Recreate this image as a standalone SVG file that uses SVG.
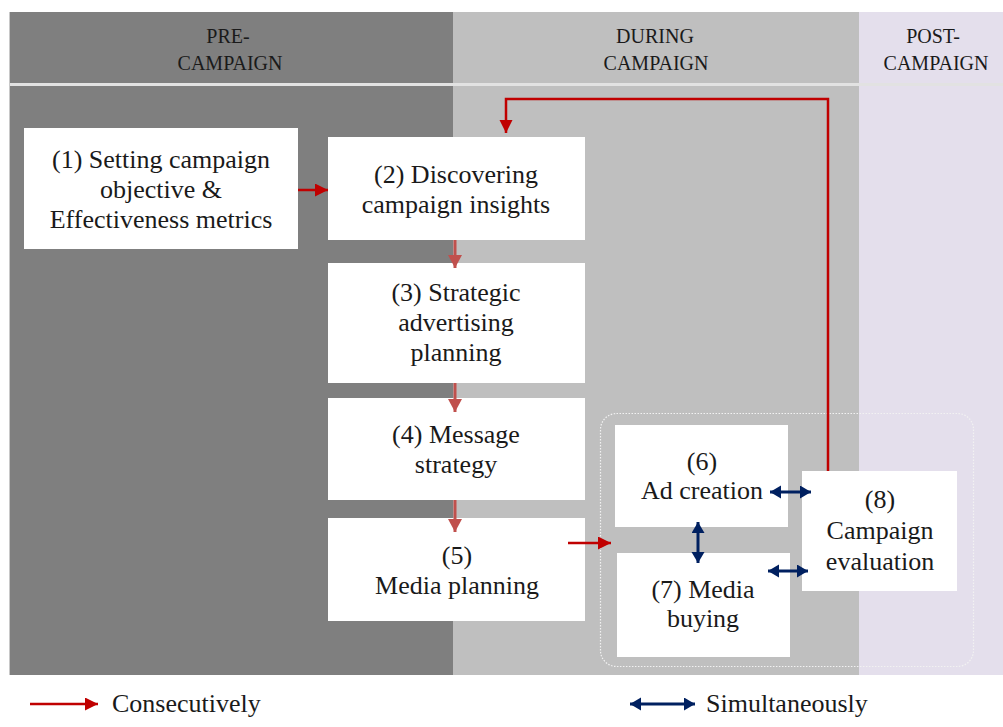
<svg xmlns="http://www.w3.org/2000/svg" width="1003" height="727" viewBox="0 0 1003 727">
<style>
.box{fill:#ffffff;}
.t{font-family:"Liberation Serif","Times New Roman",serif;font-size:26px;fill:#1a1a1a;text-anchor:middle;}
.h{font-family:"Liberation Serif","Times New Roman",serif;font-size:20px;fill:#1a1a1a;text-anchor:middle;}
.lg{font-family:"Liberation Serif","Times New Roman",serif;font-size:26px;fill:#1a1a1a;}
.red{fill:none;stroke:#c00000;stroke-width:2.5;marker-end:url(#ar);}
.pale{fill:none;stroke:#c0504d;stroke-width:3;marker-end:url(#ap);}
.blue{fill:none;stroke:#002060;stroke-width:3;marker-end:url(#ab);marker-start:url(#ab);}
</style>
<defs>
<marker id="ar" markerUnits="userSpaceOnUse" markerWidth="14" markerHeight="14" refX="13" refY="6.5" orient="auto"><path d="M0,0 L13,6.5 L0,13 z" fill="#c00000"/></marker>
<marker id="ap" markerUnits="userSpaceOnUse" markerWidth="16" markerHeight="16" refX="13" refY="7" orient="auto"><path d="M0,0 L13,7 L0,14 z" fill="#c0504d"/></marker>
<marker id="ab" markerUnits="userSpaceOnUse" markerWidth="14" markerHeight="14" refX="11" refY="6.5" orient="auto-start-reverse"><path d="M0,0 L11,6.5 L0,13 z" fill="#002060"/></marker>
</defs>
<rect x="0" y="0" width="1003" height="727" fill="#ffffff"/>
<g id="background">
<rect x="9" y="12" width="444" height="663" fill="#7f7f7f"/>
<rect x="453" y="12" width="406" height="663" fill="#bfbfbf"/>
<rect x="859" y="12" width="144" height="663" fill="#e4dfec"/>
<rect x="9" y="83" width="994" height="3" fill="#e2e2e2"/>
<line x1="9.5" y1="12" x2="9.5" y2="675" stroke="#c8c8c8" stroke-width="1"/>
<text class="h" x="228" y="43">PRE-</text>
<text class="h" x="230" y="70">CAMPAIGN</text>
<text class="h" x="655" y="43">DURING</text>
<text class="h" x="656" y="70">CAMPAIGN</text>
<text class="h" x="933" y="43">POST-</text>
<text class="h" x="936" y="70">CAMPAIGN</text>
<rect x="600.5" y="413.5" width="373" height="253" rx="16" fill="none" stroke="#f2f2f2" stroke-width="1.2" stroke-dasharray="1.5,1.5"/>
</g>
<g id="node1"><rect class="box" x="24" y="128" width="274" height="121"/>
<text class="t" x="161" y="168">(1) Setting campaign</text>
<text class="t" x="161" y="198">objective &amp;</text>
<text class="t" x="161" y="228">Effectiveness metrics</text></g>
<g id="node2"><rect class="box" x="328" y="137" width="257" height="103"/>
<text class="t" x="456" y="183">(2) Discovering</text>
<text class="t" x="456" y="213">campaign insights</text></g>
<g id="node3"><rect class="box" x="328" y="263" width="257" height="120"/>
<text class="t" x="456" y="301">(3) Strategic</text>
<text class="t" x="456" y="331">advertising</text>
<text class="t" x="456" y="361">planning</text></g>
<g id="node4"><rect class="box" x="328" y="398" width="257" height="102"/>
<text class="t" x="456" y="443">(4) Message</text>
<text class="t" x="456" y="473">strategy</text></g>
<g id="node5"><rect class="box" x="328" y="518" width="257" height="103"/>
<text class="t" x="457" y="564">(5)</text>
<text class="t" x="457" y="594">Media planning</text></g>
<g id="node6"><rect class="box" x="615" y="425" width="173" height="102"/>
<text class="t" x="702" y="470">(6)</text>
<text class="t" x="702" y="499">Ad creation</text></g>
<g id="node7"><rect class="box" x="617" y="553" width="173" height="104"/>
<text class="t" x="703" y="598">(7) Media</text>
<text class="t" x="703" y="627">buying</text></g>
<g id="node8"><rect class="box" x="802" y="471" width="155" height="120"/>
<text class="t" x="880" y="508">(8)</text>
<text class="t" x="880" y="539">Campaign</text>
<text class="t" x="880" y="570">evaluation</text></g>
<g id="connectors">
<line class="red" x1="298" y1="190" x2="328" y2="190"/>
<line class="pale" x1="455" y1="240" x2="455" y2="268"/>
<line class="pale" x1="455" y1="383" x2="455" y2="412"/>
<line class="pale" x1="455" y1="500" x2="455" y2="532"/>
<line class="red" x1="568" y1="543" x2="611" y2="543"/>
<polyline class="red" points="828,471 828,99 506,99 506,133"/>
<line class="blue" x1="770" y1="492" x2="811" y2="492"/>
<line class="blue" x1="698" y1="522" x2="698" y2="563"/>
<line class="blue" x1="768" y1="571" x2="808" y2="571"/>
</g>
<g id="legend">
<line class="red" x1="30" y1="704" x2="98" y2="704"/>
<text class="lg" x="112" y="712">Consecutively</text>
<line class="blue" x1="630" y1="704" x2="695" y2="704"/>
<text class="lg" x="706" y="712">Simultaneously</text>
</g>
</svg>
